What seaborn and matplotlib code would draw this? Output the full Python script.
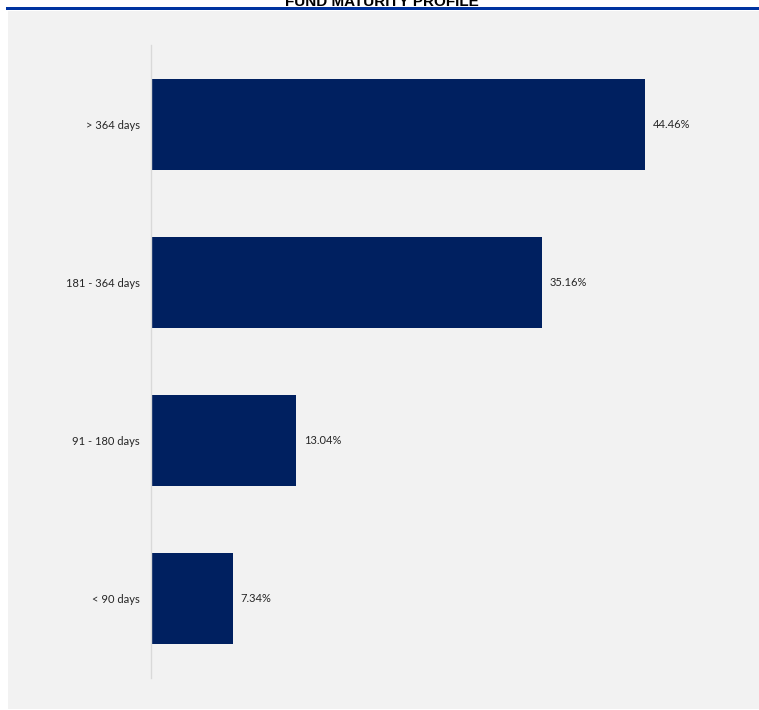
import matplotlib
matplotlib.use("Agg")
import matplotlib.pyplot as plt
from matplotlib.patches import Rectangle
import seaborn as sns
import pandas as pd

# Maturity buckets and their share of the fund (%)
buckets = ["> 364 days", "181 - 364 days", "91 - 180 days", "< 90 days"]
shares = [44.46, 35.16, 13.04, 7.34]

BAR = "#002060"
PANEL = "#f2f2f2"
RULE = "#0033a0"

sns.set_theme(style="white")
plt.rcParams["font.family"] = ["Lato", "DejaVu Sans"]

df = pd.DataFrame({"bucket": buckets, "share": shares})

fig = plt.figure(figsize=(7.59, 7.10), dpi=100)
fig.patch.set_facecolor("white")

# grey panel behind the chart and the heading rule above it
fig.add_artist(Rectangle((8 / 759, 1 / 710), 1, 1 - 12 / 710,
                         transform=fig.transFigure, facecolor=PANEL,
                         edgecolor="none", zorder=0))
fig.add_artist(Rectangle((6 / 759, 1 - 10 / 710), 1, 3 / 710,
                         transform=fig.transFigure, facecolor=RULE,
                         edgecolor="none", zorder=1))
fig.text(382 / 759, 1 - 6 / 710, "FUND MATURITY PROFILE",
         ha="center", va="baseline", fontsize=11, fontweight="bold",
         family=["Liberation Sans", "DejaVu Sans"], color="black")

ax = fig.add_axes([151 / 759, 32 / 710, (740 - 151) / 759, (678 - 45) / 710])
ax.set_facecolor(PANEL)
sns.barplot(data=df, x="share", y="bucket", order=buckets, color=BAR,
            width=0.575, saturation=1, orient="h", linewidth=0,
            ax=ax, zorder=2)

ax.set_xlim(0, (740 - 151) / 11.11)
ax.set_ylim(3.5, -0.5)
ax.set_xlabel("")
ax.set_ylabel("")
ax.set_xticks([])
for s in ["top", "right", "bottom"]:
    ax.spines[s].set_visible(False)
ax.spines["left"].set_color("#d9d9d9")
ax.spines["left"].set_linewidth(1.0)
ax.tick_params(axis="y", length=0, pad=8, labelsize=8, labelcolor="#262626")

for p, v in zip(ax.patches, shares):
    ax.annotate(f"{v:.2f}%", (p.get_width(), p.get_y() + p.get_height() / 2),
                xytext=(6, 0), textcoords="offset points", ha="left",
                va="center", fontsize=8, color="#262626")

fig.savefig("out.png", dpi=100, facecolor="white")
